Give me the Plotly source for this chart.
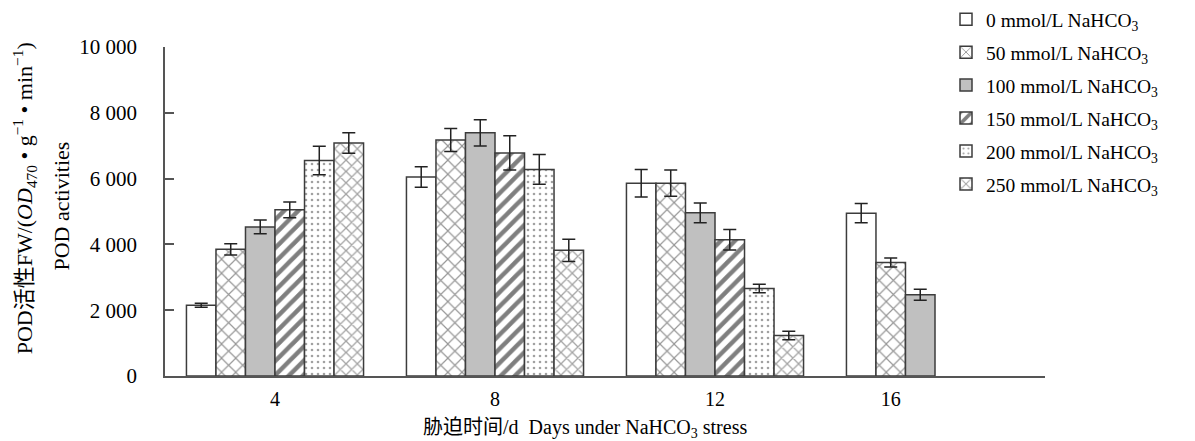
import plotly.graph_objects as go

# Days under NaHCO3 stress
days = [4, 8, 12, 16]
day_labels = ["4", "8", "12", "16"]

# Treatment names
treatments = [
    "0 mmol/L NaHCO<sub>3</sub>",
    "50 mmol/L NaHCO<sub>3</sub>",
    "100 mmol/L NaHCO<sub>3</sub>",
    "150 mmol/L NaHCO<sub>3</sub>",
    "200 mmol/L NaHCO<sub>3</sub>",
    "250 mmol/L NaHCO<sub>3</sub>",
]

# POD activity (mean) and error per treatment, per day
pod_0 = [2150, 6050, 5860, 4950]
pod_50 = [3850, 7170, 5860, 3450]
pod_100 = [4530, 7390, 4960, 2470]
pod_150 = [5050, 6780, 4140, None]
pod_200 = [6550, 6280, 2660, None]
pod_250 = [7080, 3820, 1230, None]

err_0 = [60, 310, 420, 290]
err_50 = [170, 350, 400, 140]
err_100 = [210, 400, 300, 165]
err_150 = [240, 520, 310, None]
err_200 = [430, 450, 130, None]
err_250 = [310, 340, 130, None]

y_ticks = [0, 2000, 4000, 6000, 8000, 10000]

means = [pod_0, pod_50, pod_100, pod_150, pod_200, pod_250]
errors = [err_0, err_50, err_100, err_150, err_200, err_250]

# fill style per treatment
styles = [
    dict(color="white", pattern=dict(shape="")),
    dict(color="white", pattern=dict(shape="x", size=10, solidity=0.22,
                                     fgcolor="#2e2e2e", fillmode="overlay")),
    dict(color="#c0c0c0", pattern=dict(shape="")),
    dict(color="white", pattern=dict(shape="/", size=10, solidity=0.45,
                                     fgcolor="#000000", fillmode="overlay")),
    dict(color="white", pattern=dict(shape=".", size=6, solidity=0.15,
                                     fgcolor="#444444", fillmode="overlay")),
    dict(color="white", pattern=dict(shape="x", size=8, solidity=0.3,
                                     fgcolor="#4a4a4a", fillmode="overlay")),
]

SERIF = "Liberation Serif, Times New Roman, Noto Sans CJK SC, serif"
BARGAP = 0.195
PERIOD = 4

fig = go.Figure()
for name, vals, errs, st in zip(treatments, means, errors, styles):
    fig.add_trace(go.Bar(
        x=days, y=vals, name=name, legendgroup=name,
        marker=dict(color=st["color"], pattern=st["pattern"],
                    line=dict(color="#3c3c3c", width=1.5)),
        error_y=dict(type="data", array=errs, visible=True,
                     color="#222222", thickness=1.5, width=6.5),
    ))

# tick labels sit under the centre of the bars present for each day
group_w = PERIOD * (1 - BARGAP)
slot = group_w / len(means)
label_pos = []
for i, d in enumerate(days):
    present = [k for k, vals in enumerate(means) if vals[i] is not None]
    lo, hi = min(present), max(present)
    label_pos.append(d - group_w / 2 + slot * (lo + hi + 1) / 2)

fig.update_layout(
    width=1195, height=441,
    margin=dict(l=165, r=150, t=47, b=65, autoexpand=False),
    paper_bgcolor="white", plot_bgcolor="white",
    barmode="group", bargap=BARGAP, bargroupgap=0,
    separators=". ",
    font=dict(family=SERIF, size=20, color="black"),
    showlegend=True,
    legend=dict(x=0.8875, y=1.01, xref="paper", yref="container",
                xanchor="left", yanchor="top",
                font=dict(family=SERIF, size=19.5, color="black"),
                tracegroupgap=4.6, bgcolor="rgba(0,0,0,0)",
                itemclick=False, itemdoubleclick=False),
)

fig.update_xaxes(
    range=[2, 18], showgrid=False, zeroline=False,
    showline=True, linecolor="#555555", linewidth=1.5,
    ticks="", tickvals=label_pos, ticktext=day_labels,
    tickfont=dict(family=SERIF, size=20), ticklabelstandoff=4,
)
fig.update_yaxes(
    range=[0, 10000], showgrid=False, zeroline=False,
    showline=True, linecolor="#555555", linewidth=1.5,
    ticks="inside", ticklen=9, tickwidth=1.5, tickcolor="#555555",
    tickvals=y_ticks, tickformat=",d",
    tickfont=dict(family=SERIF, size=21), ticklabelstandoff=22,
)

# axis titles
fig.add_annotation(
    xref="paper", yref="paper", x=0, y=0.54, xshift=-141,
    xanchor="center", yanchor="middle", textangle=-90, showarrow=False,
    text="POD活性FW/(<i>OD</i><sub>470</sub> • g<sup>−1</sup> • min<sup>−1</sup>)",
    font=dict(family=SERIF, size=22, color="black"),
)
fig.add_annotation(
    xref="paper", yref="paper", x=0, y=0.515, xshift=-103,
    xanchor="center", yanchor="middle", textangle=-90, showarrow=False,
    text="POD activities",
    font=dict(family=SERIF, size=22, color="black"),
)
fig.add_annotation(
    xref="paper", yref="paper", x=0.477, y=0, yshift=-52,
    xanchor="center", yanchor="middle", showarrow=False,
    text="胁迫时间/d  Days under NaHCO<sub>3</sub> stress",
    font=dict(family=SERIF, size=20, color="black"),
)

fig.write_html("out.html")
